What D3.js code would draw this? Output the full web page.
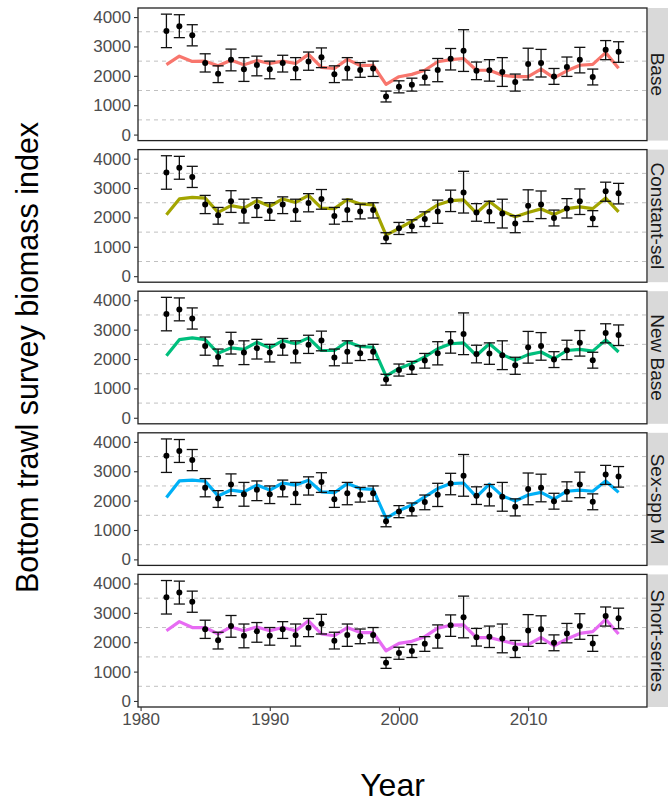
<!DOCTYPE html>
<html>
<head>
<meta charset="utf-8">
<script src="https://cdn.jsdelivr.net/npm/d3@7"></script>
<style>
  body { margin: 0; background: #fff; }
  text { font-family: "Liberation Sans", Arial, sans-serif; }
</style>
</head>
<body>
<svg id="chart" width="668" height="803"></svg>
<script>
// survey years
const years = [1982, 1983, 1984, 1985, 1986, 1987, 1988, 1989, 1990, 1991, 1992, 1993,
  1994, 1995, 1996, 1997, 1998, 1999, 2000, 2001, 2002, 2003, 2004, 2005,
  2006, 2007, 2008, 2009, 2010, 2011, 2012, 2013, 2014, 2015, 2016, 2017];

// observed index and error bar ends
const obs = [3530, 3690, 3380, 2440, 2070, 2550, 2220, 2370, 2220, 2440, 2240, 2490,
  2630, 2050, 2250, 2200, 2250, 1300, 1630, 1700, 1950, 2200, 2580, 2850,
  2170, 2190, 2130, 1790, 2400, 2440, 1980, 2300, 2550, 1960, 2890, 2820];
const obsHi = [4100, 4080, 3740, 2750, 2340, 2910, 2620, 2670, 2500, 2700, 2620, 2810,
  2950, 2340, 2620, 2450, 2500, 1480, 1830, 1920, 2190, 2590, 2930, 3570,
  2470, 2550, 2620, 2060, 2940, 2900, 2250, 2640, 2970, 2230, 3200, 3160];
const obsLo = [2960, 3300, 3020, 2130, 1770, 2170, 1810, 2000, 1900, 2130, 1870, 2190,
  2280, 1770, 1860, 1950, 1980, 1110, 1420, 1480, 1690, 1800, 2200, 2150,
  1870, 1820, 1640, 1480, 1860, 1960, 1710, 1980, 2100, 1690, 2550, 2460];

// model fits
const base = [2380, 2670, 2490, 2500, 2340, 2530, 2380, 2520, 2420, 2500, 2420, 2730,
  2290, 2250, 2560, 2350, 2360, 1710, 1970, 2050, 2190, 2480, 2550, 2590,
  2190, 2190, 2020, 1970, 1970, 2230, 1930, 2170, 2360, 2390, 2790, 2260];
const constSel = [2090, 2630, 2680, 2660, 2170, 2400, 2320, 2570, 2380, 2630, 2510, 2750,
  2320, 2300, 2610, 2460, 2430, 1400, 1630, 1870, 2150, 2430, 2570, 2600,
  2150, 2540, 2210, 2020, 2170, 2290, 2100, 2300, 2360, 2300, 2660, 2190];
const newBase = [2110, 2660, 2720, 2660, 2200, 2380, 2330, 2570, 2380, 2630, 2520, 2720,
  2290, 2290, 2590, 2430, 2400, 1420, 1680, 1850, 2070, 2350, 2520, 2550,
  2120, 2520, 2150, 1960, 2150, 2240, 2010, 2290, 2330, 2270, 2650, 2240];
const sexSpp = [2110, 2670, 2700, 2660, 2160, 2360, 2300, 2530, 2360, 2600, 2530, 2690,
  2300, 2270, 2580, 2410, 2380, 1400, 1660, 1850, 2130, 2410, 2580, 2600,
  2130, 2560, 2160, 1990, 2190, 2280, 2050, 2320, 2360, 2320, 2670, 2280];
const shortSeries = [2390, 2700, 2500, 2500, 2280, 2520, 2390, 2520, 2390, 2500, 2390, 2730,
  2280, 2220, 2500, 2330, 2330, 1710, 1960, 2030, 2190, 2480, 2580, 2590,
  2160, 2160, 2050, 1940, 1920, 2160, 1880, 2110, 2300, 2360, 2780, 2280];

const models = ["Base", "Constant-sel", "New Base", "Sex-spp M", "Short-series"];
const fits = [base, constSel, newBase, sexSpp, shortSeries];
const colors = ["#F8766D", "#A3A500", "#00BF7D", "#00B0F6", "#E76BF3"];

const yTicks = [0, 1000, 2000, 3000, 4000];
const yGrid = [500, 1500, 2500, 3500];
const xTicks = [1980, 1990, 2000, 2010];

const svg = d3.select("#chart");
const left = 138, right = 647, top0 = 8, panelH = 132.6, gap = 9;

const x = d3.scaleLinear().domain([1979.8, 2019.2]).range([left, right]);

models.forEach((name, i) => {
  const top = top0 + i * (panelH + gap);
  const y = d3.scaleLinear().domain([-205, 4309]).range([top + panelH, top]);
  const g = svg.append("g");

  // strip on the right
  g.append("rect")
    .attr("x", right + 1).attr("y", top)
    .attr("width", 668 - right).attr("height", panelH)
    .attr("fill", "#D9D9D9");
  g.append("text")
    .attr("transform", `translate(651, ${top + panelH / 2}) rotate(90)`)
    .attr("text-anchor", "middle")
    .attr("font-size", 19)
    .attr("fill", "#1A1A1A")
    .text(name);

  // dashed grid
  g.selectAll(".grid").data(yGrid).enter()
    .append("line")
    .attr("x1", left).attr("x2", right)
    .attr("y1", d => y(d)).attr("y2", d => y(d))
    .attr("stroke", "#C0C0C0")
    .attr("stroke-width", 1)
    .attr("stroke-dasharray", "4,4");

  // fitted line
  const line = d3.line().x((d, j) => x(years[j])).y(d => y(d));
  g.append("path")
    .datum(fits[i])
    .attr("d", line)
    .attr("fill", "none")
    .attr("stroke", colors[i])
    .attr("stroke-width", 3.2)
    .attr("stroke-linejoin", "round");

  // error bars
  const cap = 0.43;
  const eb = g.selectAll(".eb").data(years).enter().append("g");
  eb.append("line")
    .attr("x1", d => x(d)).attr("x2", d => x(d))
    .attr("y1", (d, j) => y(obsLo[j])).attr("y2", (d, j) => y(obsHi[j]));
  eb.append("line")
    .attr("x1", d => x(d - cap)).attr("x2", d => x(d + cap))
    .attr("y1", (d, j) => y(obsHi[j])).attr("y2", (d, j) => y(obsHi[j]));
  eb.append("line")
    .attr("x1", d => x(d - cap)).attr("x2", d => x(d + cap))
    .attr("y1", (d, j) => y(obsLo[j])).attr("y2", (d, j) => y(obsLo[j]));
  eb.selectAll("line").attr("stroke", "#111").attr("stroke-width", 1.3);

  g.selectAll(".pt").data(years).enter()
    .append("circle")
    .attr("cx", d => x(d))
    .attr("cy", (d, j) => y(obs[j]))
    .attr("r", 3)
    .attr("fill", "#000");

  // panel border
  g.append("rect")
    .attr("x", left).attr("y", top)
    .attr("width", right - left).attr("height", panelH)
    .attr("fill", "none")
    .attr("stroke", "#222")
    .attr("stroke-width", 1.3);

  // y axis
  const ya = g.append("g")
    .attr("transform", `translate(${left},0)`)
    .call(d3.axisLeft(y).tickValues(yTicks).tickSize(4).tickPadding(3).tickFormat(d3.format("d")));
  ya.select(".domain").remove();
  ya.selectAll("line").attr("stroke", "#333").attr("stroke-width", 1.1);
  ya.selectAll("text").attr("font-size", 17).attr("fill", "#4D4D4D")
    .attr("font-family", "Liberation Sans, Arial, sans-serif");

  if (i === models.length - 1) {
    const xa = g.append("g")
      .attr("transform", `translate(0,${top + panelH})`)
      .call(d3.axisBottom(x).tickValues(xTicks).tickSize(4).tickPadding(2).tickFormat(d3.format("d")));
    xa.select(".domain").remove();
    xa.selectAll("line").attr("stroke", "#333").attr("stroke-width", 1.1);
    xa.selectAll("text").attr("font-size", 17).attr("fill", "#4D4D4D")
      .attr("font-family", "Liberation Sans, Arial, sans-serif");
  }
});

// axis titles
svg.append("text")
  .attr("x", (left + right) / 2).attr("y", 796)
  .attr("text-anchor", "middle")
  .attr("font-size", 32)
  .attr("fill", "#000")
  .text("Year");

svg.append("text")
  .attr("transform", `translate(38, ${top0 + (5 * panelH + 4 * gap) / 2}) rotate(-90)`)
  .attr("text-anchor", "middle")
  .attr("font-size", 30.5)
  .attr("fill", "#000")
  .text("Bottom trawl survey biomass index");
</script>
</body>
</html>
